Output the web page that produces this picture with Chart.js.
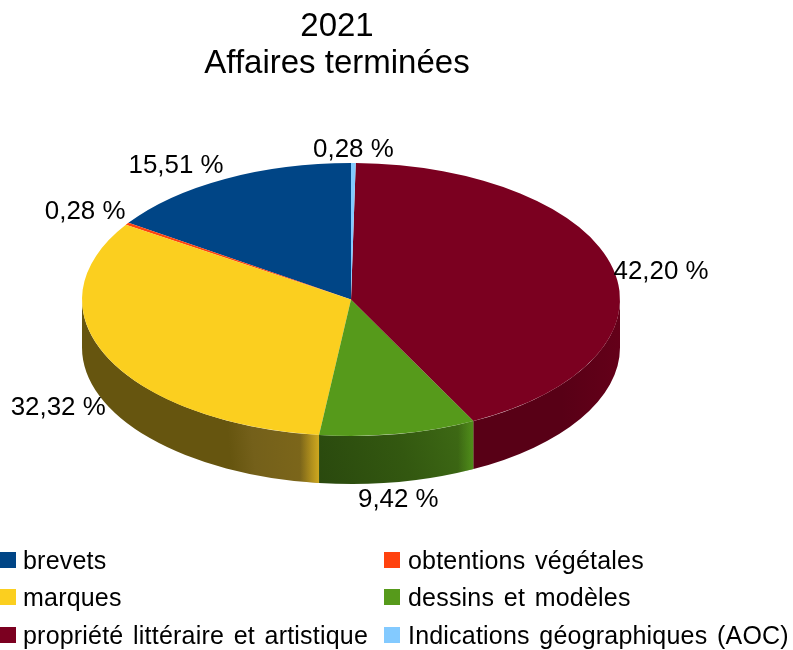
<!DOCTYPE html>
<html lang="fr">
<head>
<meta charset="utf-8">
<script src="https://cdn.jsdelivr.net/npm/chart.js@4"></script>
<style>
html,body{margin:0;padding:0;background:#fff;}
#wrap{position:relative;width:793px;height:650px;overflow:hidden;font-family:"Liberation Sans",Arial,sans-serif;}
canvas{position:absolute;left:0;top:0;}
.item{position:absolute;height:30px;line-height:30px;font-size:25px;letter-spacing:0.2px;word-spacing:2.5px;color:#000;white-space:nowrap;}
.sw{position:absolute;width:16px;height:16px;}
</style>
</head>
<body>
<div id="wrap"><canvas id="c" width="793" height="650"></canvas><div id="legend"></div></div>
<script>
const categories = ["brevets","obtentions végétales","marques","dessins et modèles","propriété littéraire et artistique","Indications géographiques (AOC)"];
const values = [15.51,0.28,32.32,9.42,42.20,0.28];
const valueLabels = ["15,51 %","0,28 %","32,32 %","9,42 %","42,20 %","0,28 %"];
const colors = ["#004586","#ff420e","#fbcf1f","#569a1b","#7b0020","#83caff"];
const titleLines = ["2021","Affaires terminées"];

/* styling / layout */
const wallStops = {
  2:[[0,"#66550f"],[0.62,"#66550f"],[0.72,"#74601a"],[0.925,"#7c661a"],[1,"#8a7018"]],
  3:[[0,"#2a490e"],[0.55,"#335810"],[1,"#3f6c15"]],
  4:[[0,"#580016"],[0.6,"#580016"],[1,"#640019"]]
};
const wallEdge = {
  2:[[0.92,"rgba(214,174,32,0)"],[1,"rgba(214,174,32,0.9)"]],
  3:[[0.9,"rgba(86,154,27,0)"],[1,"rgba(86,154,27,0.75)"]]
};
const wallTilt = {2:24, 3:48, 4:0};
const labelOffsets = [[-49,-13],[-42,-11.5],[-49,50.5],[0,66],[48,3],[0,-13]];
const PIE = {cx:351, cy:299.5, rx:269, ry:136.5, depth:48};
const legendCols = [{sw:0,tx:23},{sw:384,tx:408}];
const legendRows = [552,589,627];

const pie3d = {
  id:'pie3d',
  beforeDatasetsDraw(chart){
    const ctx = chart.ctx, arcs = chart.getDatasetMeta(0).data;
    const {cx,cy,rx,ry,depth} = PIE;
    ctx.save();
    arcs.forEach((arc,i)=>{
      const a1 = Math.max(arc.startAngle,0), a2 = Math.min(arc.endAngle,Math.PI);
      if(a2<=a1) return;
      const x1 = cx-rx*Math.cos(a1), x2 = cx-rx*Math.cos(a2);
      const tilt = wallTilt[i]||0;
      const g = ctx.createLinearGradient(x1,cy+ry+tilt,x2,cy+ry);
      (wallStops[i]||[[0,colors[i]],[1,colors[i]]]).forEach(s=>g.addColorStop(s[0],s[1]));
      const path = ()=>{
        ctx.beginPath();
        ctx.ellipse(cx,cy,rx,ry,0,Math.PI-a1,Math.PI-a2,true);
        ctx.ellipse(cx,cy+depth,rx,ry,0,Math.PI-a2,Math.PI-a1,false);
        ctx.closePath();
      };
      path();
      ctx.fillStyle = g;
      ctx.fill();
      if(wallEdge[i]){
        const e = ctx.createLinearGradient(x1,0,x2,0);
        wallEdge[i].forEach(s=>e.addColorStop(s[0],s[1]));
        path();
        ctx.fillStyle = e;
        ctx.fill();
      }
    });
    ctx.restore();
    const a0 = arcs[0];
    ctx.save();
    ctx.translate(cx,cy);
    ctx.scale(-rx/a0.outerRadius, ry/a0.outerRadius);
    ctx.translate(-a0.x,-a0.y);
  },
  afterDatasetsDraw(chart){
    const ctx = chart.ctx, arcs = chart.getDatasetMeta(0).data;
    ctx.restore();
    const {cx,cy,rx,ry} = PIE;
    ctx.save();
    ctx.font = '25.9px "Liberation Sans"';
    ctx.fillStyle = '#000';
    ctx.textAlign = 'center';
    ctx.textBaseline = 'middle';
    arcs.forEach((arc,i)=>{
      const m = (arc.startAngle+arc.endAngle)/2;
      const x = cx-rx*Math.cos(m)+labelOffsets[i][0];
      const y = cy+ry*Math.sin(m)+labelOffsets[i][1];
      ctx.fillText(valueLabels[i],x,y);
    });
    ctx.restore();
  }
};

new Chart(document.getElementById('c'),{
  type:'pie',
  data:{labels:categories,datasets:[{data:values,backgroundColor:colors,borderWidth:0}]},
  options:{
    responsive:false,
    animation:false,
    layout:{padding:{left:0,right:119,top:6,bottom:0}},
    plugins:{
      legend:{display:false},
      tooltip:{enabled:false},
      title:{display:true,text:titleLines,color:'#000',font:{family:'"Liberation Sans"',size:33,weight:'normal',lineHeight:1.13},padding:{top:2,bottom:10}}
    }
  },
  plugins:[pie3d]
});

const legend = document.getElementById('legend');
categories.forEach((name,i)=>{
  const col = legendCols[i%2], y = legendRows[Math.floor(i/2)];
  const sw = document.createElement('div');
  sw.className='sw';
  sw.style.cssText=`left:${col.sw}px;top:${y}px;background:${colors[i]}`;
  const tx = document.createElement('div');
  tx.className='item';
  tx.style.cssText=`left:${col.tx}px;top:${y-7}px`;
  tx.textContent=name;
  legend.append(sw,tx);
});
</script>
</body>
</html>
